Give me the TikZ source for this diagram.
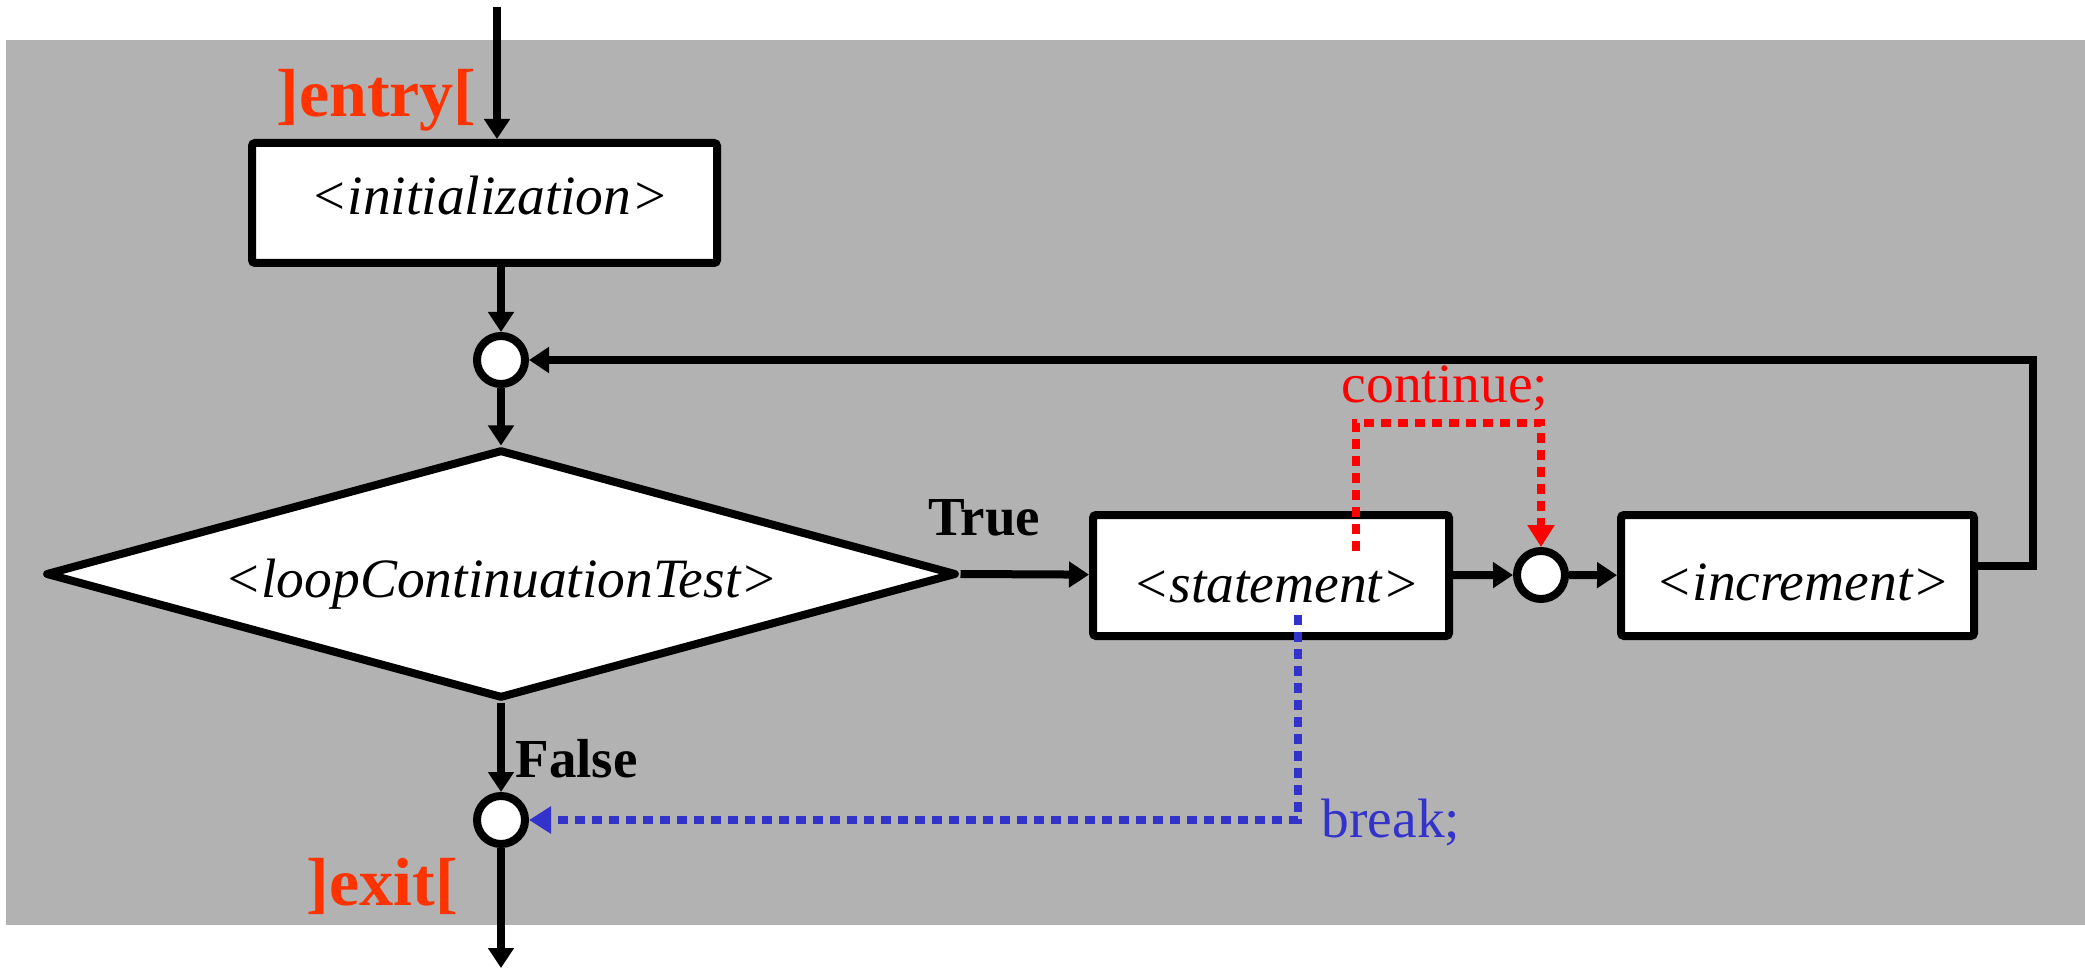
\documentclass[tikz,border=0pt]{standalone}
\usepackage{fontspec}
\setmainfont{Liberation Serif}
\usetikzlibrary{shapes.geometric,arrows.meta}
\definecolor{panel}{RGB}{178,178,178}
\definecolor{gateorange}{RGB}{255,51,0}
\definecolor{contred}{RGB}{255,0,0}
\definecolor{brkblue}{RGB}{51,51,204}

\begin{document}
\begin{tikzpicture}[x=0.5pt,y=-0.5pt,
  every node/.style={inner sep=0pt},
  boxtext/.style={font=\fontsize{27.75}{32}\selectfont\itshape},
  box/.style={rectangle, draw=black, fill=white, line width=4pt,
    rounded corners=1.5pt, boxtext},
  decision/.style={diamond, draw=black, fill=white, line width=4pt,
    line join=round, aspect=3.6, minimum width=455.5pt, minimum height=124.5pt, boxtext},
  junction/.style={circle, draw=black, fill=white, line width=4pt, minimum size=24pt},
  flow/.style={line width=4pt, -{Triangle[length=10pt,width=12.5pt]}},
  jump/.style={line width=4pt, dash pattern=on 5pt off 3.5pt,
    -{Triangle[length=11pt,width=13pt]}},
  gate/.style={text=gateorange, font=\fontsize{34}{40}\selectfont\bfseries, anchor=base},
  branch/.style={font=\fontsize{27.5}{32}\selectfont\bfseries, anchor=base},
  kw/.style={font=\fontsize{27.75}{32}\selectfont, anchor=base}]

\useasboundingbox (0,0) rectangle (2085,968);
% grey panel behind the flow chart
\fill[panel] (6,40) rectangle (2085,925);

% process boxes and decision
\node[box, minimum width=232.5pt, minimum height=60pt, text height=18pt, text depth=6pt]
  (init) at (484.5,203) {\hspace{5pt}<initialization>};
\node[decision, text height=23pt, text depth=0pt]
  (dia) at (501,574) {<loopContinuationTest>\hspace{11pt}};
\node[box, minimum width=178pt, minimum height=60.5pt, text height=27pt, text depth=0pt]
  (stmt) at (1271,575.5) {\hspace{5pt}<statement>};
\node[box, minimum width=176.5pt, minimum height=60.5pt, text height=25pt, text depth=0pt]
  (incr) at (1797.5,575.5) {\hspace{5pt}<increment>};

% junction points
\node[junction] (c1) at (501,360) {};
\node[junction] (c2) at (501,820) {};
\node[junction] (c3) at (1541,575) {};

% labels
\node[gate] (entry) at (376.5,117) {]entry[};
\node[gate] (exit) at (382.5,905) {]exit[};
\node[branch] (true) at (984,535) {True};
\node[branch] (false) at (576.5,777) {False};
\node[kw, text=contred] (cont) at (1445,403) {continue;};
\node[kw, text=brkblue] (brk) at (1391,837) {break;};

% main control flow
\coordinate (src) at (497,7);
\coordinate (sink) at (501,968);
\coordinate (loopcorner) at (2033,360);
\draw[flow] (src) -- (src |- init.north);
\draw[flow] (init.south -| c1) -- (c1);
\draw[flow] (c1) -- (dia);
\draw[flow] (dia.south) -- (c2);
\draw[flow] (c2) -- (sink);
\draw[flow] (dia.east) -- (stmt);
\draw[flow] (stmt) -- (c3);
\draw[flow] (c3) -- (incr);
\draw[flow] ([yshift=5pt]incr.east) -| (loopcorner) -- (c1);

% continue jump
\coordinate (contfrom) at (1356,551);
\coordinate (contup) at (1356,423);
\draw[jump, contred] (contfrom) -- (contup) -| (c3);

% break jump
\coordinate (brkfrom) at (1298,615);
\draw[jump, brkblue] (brkfrom) |- (c2);
\end{tikzpicture}
\end{document}
